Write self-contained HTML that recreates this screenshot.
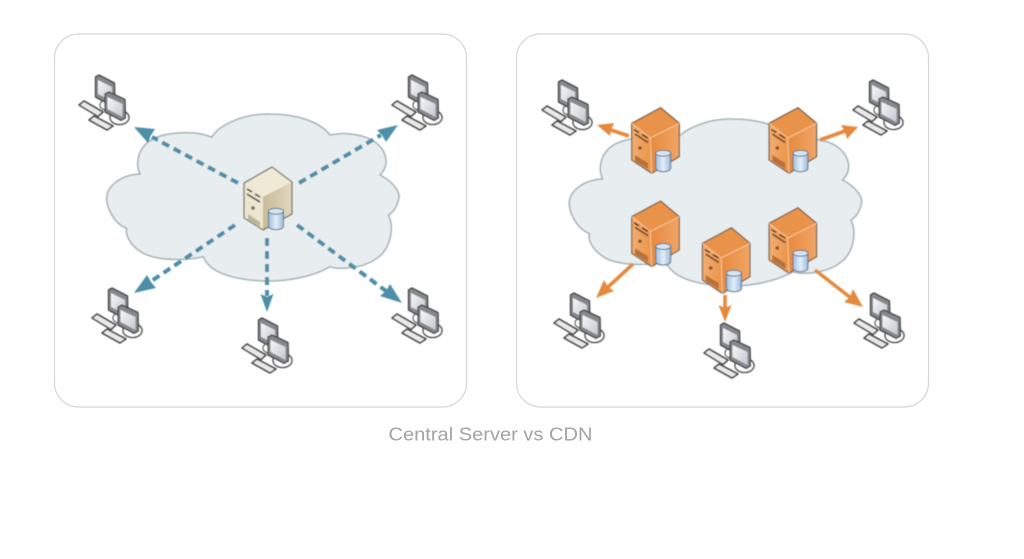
<!DOCTYPE html>
<html>
<head>
<meta charset="utf-8">
<style>
html,body{margin:0;padding:0;background:#fff;width:1024px;height:559px;overflow:hidden}
svg{display:block}
</style>
</head>
<body>
<svg xmlns="http://www.w3.org/2000/svg" width="1024" height="559" viewBox="0 0 1024 559">
<defs>
<filter id="b" x="-10%" y="-10%" width="120%" height="120%"><feGaussianBlur stdDeviation="0.5"/></filter>
<filter id="t" x="-5%" y="-20%" width="110%" height="140%"><feGaussianBlur stdDeviation="0.3"/></filter>
<linearGradient id="scr" x1="0" y1="0" x2="1" y2="1"><stop offset="0" stop-color="#f6f7f9"/><stop offset="1" stop-color="#c4c8cf"/></linearGradient>
<linearGradient id="cyl" x1="0" y1="0" x2="1" y2="0"><stop offset="0" stop-color="#9dbfe0"/><stop offset=".5" stop-color="#e4eef8"/><stop offset="1" stop-color="#9bbbdb"/></linearGradient>
<linearGradient id="rO" x1="0" y1="0" x2="1" y2="0"><stop offset="0" stop-color="#e68a3e"/><stop offset="1" stop-color="#f0a566"/></linearGradient>
<linearGradient id="lO" x1="0" y1="0" x2="1" y2="0"><stop offset="0" stop-color="#f3ad70"/><stop offset="1" stop-color="#ea9449"/></linearGradient>
<linearGradient id="rC" x1="0" y1="0" x2="1" y2="0"><stop offset="0" stop-color="#c9bb98"/><stop offset="1" stop-color="#e2d8bf"/></linearGradient>

<path id="cloud" transform="translate(100 100) scale(.33333)" d="M335 112 C360 70 440 40 510 42 C590 42 660 65 690 105 C740 95 800 105 830 130 C860 155 870 195 840 225 C880 245 905 280 895 300 C890 325 875 340 865 345 C885 385 870 450 830 475 C790 505 720 510 690 500 C640 530 560 545 490 543 C420 540 330 525 310 470 C270 480 180 485 130 460 C95 440 75 410 80 385 C40 370 20 320 20 295 C20 260 60 225 120 222 C105 190 115 145 150 122 C190 95 290 90 335 112 Z" fill="#e8edef" stroke="#a3b2b6" stroke-width="4.5"/>

<g id="pc">
  <ellipse cx="119.500" cy="117.500" rx="9.500" ry="7" fill="#fff" stroke="#5c5c5c" stroke-width="1.6"/>
  <ellipse cx="108" cy="105" rx="8" ry="5.500" fill="#fff" stroke="#6c6c6c" stroke-width="1.4"/>
  <path d="M95.500 77 L99 75 L114.500 83 L115 102 L110 105 L95.500 97 Z" fill="#85888c" stroke="#444" stroke-width="1.3" stroke-linejoin="round"/>
  <path d="M98 80 L112 87 L112 101 L98 94 Z" fill="url(#scr)"/>
  <path d="M105 94 L109 92 L125 99.500 L125.500 118 L121 120.500 L105 112 Z" fill="#85888c" stroke="#444" stroke-width="1.3" stroke-linejoin="round"/>
  <path d="M107.500 97 L122.500 104 L122.500 117 L107.500 109 Z" fill="url(#scr)"/>
  <path d="M79 105 L84 101 L103 112 L98 116.500 Z" fill="#e9e9e9" stroke="#484848" stroke-width="1.6" stroke-linejoin="round"/>
  <path d="M89 120 L94 116 L113 126 L107 130 Z" fill="#e9e9e9" stroke="#484848" stroke-width="1.6" stroke-linejoin="round"/>
</g>

<g id="cy">
  <path d="M0 3 L0 18 C0 23 15 23 15 18 L15 3 Z" fill="url(#cyl)" stroke="#56708c" stroke-width="1"/>
  <ellipse cx="7.500" cy="3.200" rx="7.500" ry="3" fill="#d7e5f1" stroke="#56708c" stroke-width="1"/>
</g>

<g id="srvO">
  <path d="M631.700 123.300 L660.700 107.700 L679.300 123.300 L679.300 156.700 L651.700 173.300 L631.700 160 Z" fill="#e58a3d"/>
  <path d="M631.700 123.300 L660.700 107.700 L679.300 123.300 L650.500 138 Z" fill="#e9924a"/>
  <path d="M650.500 138 L679.300 123.300 L679.300 156.700 L651.700 173.300 Z" fill="url(#rO)"/>
  <path d="M631.700 123.300 L650.500 138 L651.700 173.300 L631.700 160 Z" fill="url(#lO)"/>
  <path d="M631.700 123.300 L660.700 107.700 L679.300 123.300 L679.300 156.700 L651.700 173.300 L631.700 160 Z" fill="none" stroke="#7e6350" stroke-width="1.3" stroke-linejoin="round"/>
  <path d="M631.700 123.300 L650.500 138 L679.300 123.300 M650.500 138 L651.700 173.300" fill="none" stroke="#f7c79a" stroke-width="1"/>
  <path d="M634 129.500 L639 132.500 M642 134.500 L648 138" stroke="#4a3024" stroke-width="1.500"/>
  <path d="M635 134 L648 142.500" stroke="#7d4f30" stroke-width="1.800"/>
  <circle cx="640" cy="148" r="1.800" fill="#85552c"/>
  <path d="M635 155 L648 163 L648 169 L635 161 Z" fill="#b9703a"/>
  <use href="#cy" x="655.700" y="150"/>
</g>
</defs>

<rect width="1024" height="559" fill="#fff"/>
<rect x="54.500" y="34" width="412" height="373" rx="24" fill="#fff" stroke="#d6d6d6" stroke-width="1.2"/>
<rect x="516.500" y="34" width="412" height="373" rx="24" fill="#fff" stroke="#d6d6d6" stroke-width="1.2"/>

<g filter="url(#b)">
  <use href="#cloud"/>
  <use href="#cloud" x="462.600" y="5"/>

  <!-- left arrows -->
  <g stroke="#4d8fa8" stroke-width="4" stroke-dasharray="8 5" fill="none">
    <path d="M238 183 L152 137"/>
    <path d="M299 183 L381 135"/>
    <path d="M235 225 L150 282"/>
    <path d="M267 238 L267 296"/>
    <path d="M297 225 L386 291"/>
  </g>
  <g fill="#4d8fa8">
    <path d="M134 127 L155 129 L150.500 136 L148 143 Z"/>
    <path d="M398 125 L386 142 L382 135 L377 130 Z"/>
    <path d="M134 293 L147 275 L151 282 L156 288 Z"/>
    <path d="M267 312 L260.500 294 L267 297 L273.500 294 Z"/>
    <path d="M402 303 L380 296 L386 291 L390 284 Z"/>
  </g>

  <!-- central server -->
  <path d="M244 183 L272 167 L292 182 L292 214 L263 230 L244 218 Z" fill="#e8e0c8"/>
  <path d="M244 183 L272 167 L292 182 L263 197 Z" fill="#efe9d6"/>
  <path d="M263 197 L292 182 L292 214 L263 230 Z" fill="url(#rC)"/>
  <path d="M244 183 L263 197 L263 230 L244 218 Z" fill="#ece5d0"/>
  <path d="M244 183 L272 167 L292 182 L292 214 L263 230 L244 218 Z" fill="none" stroke="#77766a" stroke-width="1.3" stroke-linejoin="round"/>
  <path d="M247 189 L252 192 M255 194 L260 197" stroke="#333" stroke-width="1.500"/>
  <path d="M247 194 L260 202" stroke="#555" stroke-width="1.700"/>
  <circle cx="253" cy="208" r="1.900" fill="#77775a"/>
  <path d="M248 214 L260 222 L260 228 L248 220 Z" fill="#bfb598"/>
  <use href="#cy" x="268.500" y="208"/>

  <!-- right arrows -->
  <g stroke="#e58a3d" stroke-width="3.600" fill="none">
    <path d="M629 136 L608 129"/>
    <path d="M820 140 L845 131"/>
    <path d="M633 264 L607 288"/>
    <path d="M725 295 L725 309"/>
    <path d="M815 270 L851 298"/>
  </g>
  <g fill="#e58a3d">
    <path d="M597 125 L614 123 L611 130 L610 136 Z"/>
    <path d="M858 127 L847 139 L845 132 L841 125 Z"/>
    <path d="M596 298 L604 280 L608 287 L614 291 Z"/>
    <path d="M725 322 L718.500 305 L725 308 L731.500 305 Z"/>
    <path d="M863 307 L844 302 L850 297 L853 289 Z"/>
  </g>

  <!-- CDN servers -->
  <use href="#srvO"/>
  <use href="#srvO" x="137.300"/>
  <use href="#srvO" y="93.300"/>
  <use href="#srvO" x="70.700" y="120"/>
  <use href="#srvO" x="137.300" y="100"/>

  <!-- computers -->
  <use href="#pc"/>
  <use href="#pc" x="313"/>
  <use href="#pc" x="13" y="213"/>
  <use href="#pc" x="163" y="243"/>
  <use href="#pc" x="313" y="213"/>
  <use href="#pc" x="463" y="5"/>
  <use href="#pc" x="774" y="5"/>
  <use href="#pc" x="475" y="218"/>
  <use href="#pc" x="625" y="248"/>
  <use href="#pc" x="775" y="218"/>
</g>

<text x="388.500" y="440.500" font-family="'Liberation Sans',sans-serif" font-size="18" fill="#a3a3a3" textLength="204" lengthAdjust="spacingAndGlyphs" filter="url(#t)">Central Server vs CDN</text>
</svg>
</body>
</html>
